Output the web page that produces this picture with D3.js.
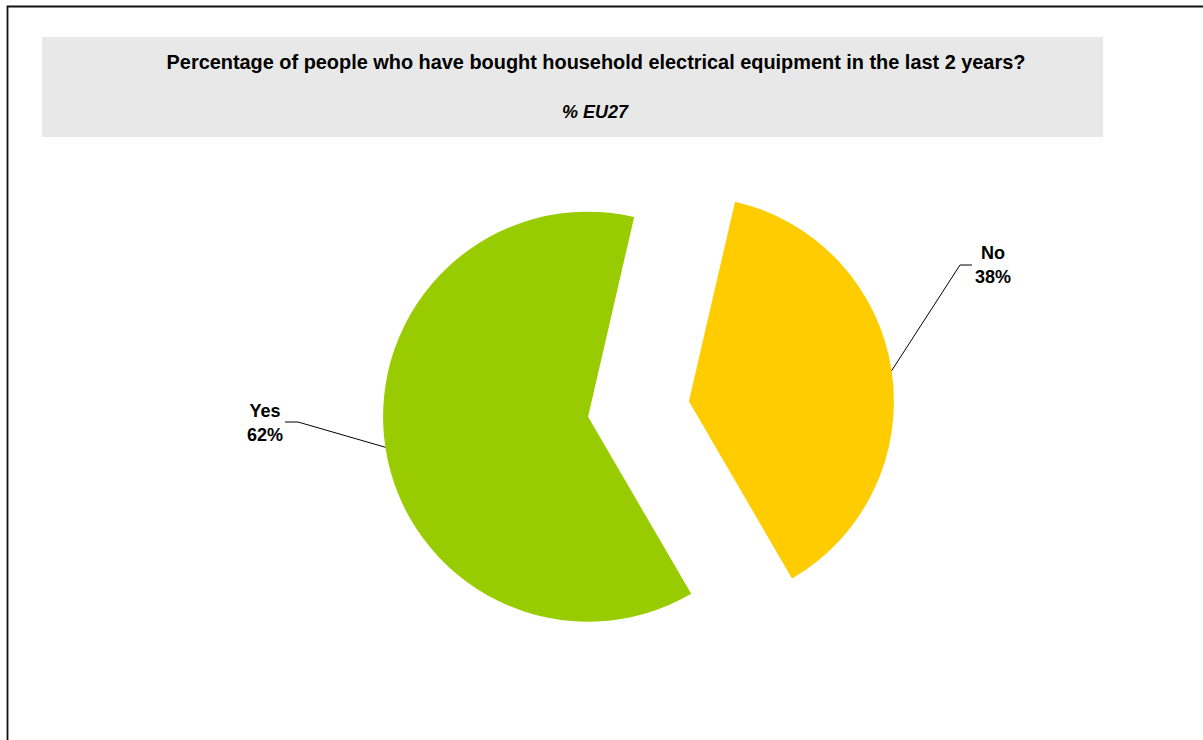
<!DOCTYPE html>
<html>
<head>
<meta charset="utf-8">
<script src="https://cdn.jsdelivr.net/npm/d3@7"></script>
<style>
  html, body { margin: 0; padding: 0; background: #fff; }
  svg { display: block; font-family: "Liberation Sans", Arial, sans-serif; }
</style>
</head>
<body>
<svg id="chart" width="1203" height="740"></svg>
<script>
// Survey answers and their shares (%)
const categories = ["Yes", "No"];
const values = [62, 38];
const sliceColors = ["#99CC00", "#FFCC00"];
const titleText = "Percentage of people who have bought household electrical equipment in the last 2 years?";
const subtitleText = "% EU27";

const svg = d3.select("#chart");

// Outer frame (only left and top edges fall inside the view)
svg.append("path")
  .attr("d", "M7.5,745 V6.5 H1210")
  .attr("fill", "none")
  .attr("stroke", "#111")
  .attr("stroke-width", 1.8);

// Title band
svg.append("rect")
  .attr("x", 42).attr("y", 37)
  .attr("width", 1061).attr("height", 100)
  .attr("fill", "#e8e8e8");

svg.append("text")
  .attr("x", 596).attr("y", 69)
  .attr("text-anchor", "middle")
  .attr("font-weight", "bold")
  .attr("font-size", 19.9)
  .attr("fill", "#000")
  .text(titleText);

svg.append("text")
  .attr("x", 595).attr("y", 118)
  .attr("text-anchor", "middle")
  .attr("font-weight", "bold")
  .attr("font-style", "italic")
  .attr("font-size", 18)
  .attr("fill", "#000")
  .text(subtitleText);

// Pie layout: rotated so the "No" slice begins at about 13° past 12 o'clock
const data = categories.map((c, i) => ({ label: c, value: values[i], color: sliceColors[i] }));
const start = (13 - 360 * values[0] / d3.sum(values)) * Math.PI / 180;
const pie = d3.pie().sort(null).value(d => d.value)
  .startAngle(start).endAngle(start + 2 * Math.PI);

const cx = 638.5, cy = 409, radius = 205, explode = 51;
const arc = d3.arc().innerRadius(0).outerRadius(radius);

const arcs = pie(data);

const slices = svg.append("g").attr("transform", `translate(${cx},${cy})`);

// Leader-line geometry for each label (elbow point, end of horizontal tick, text centre)
const labelLayout = {
  Yes: { elbow: [298, 422], tick: [285, 422], text: [265, 417] },
  No:  { elbow: [960, 265], tick: [972, 265], text: [993, 259] }
};

arcs.forEach(a => {
  const mid = (a.startAngle + a.endAngle) / 2;
  const ox = explode * Math.sin(mid), oy = -explode * Math.cos(mid);
  slices.append("path")
    .attr("d", arc(a))
    .attr("transform", `translate(${ox},${oy})`)
    .attr("fill", a.data.color);

  // point on the slice rim at its middle angle
  const px = cx + ox + radius * Math.sin(mid);
  const py = cy + oy - radius * Math.cos(mid);
  const L = labelLayout[a.data.label];

  svg.append("polyline")
    .attr("points", [[px, py], L.elbow, L.tick].map(p => p.join(",")).join(" "))
    .attr("fill", "none")
    .attr("stroke", "#000")
    .attr("stroke-width", 1);

  const t = svg.append("text")
    .attr("x", L.text[0]).attr("y", L.text[1])
    .attr("text-anchor", "middle")
    .attr("font-weight", "bold")
    .attr("font-size", 18)
    .attr("fill", "#000");
  t.append("tspan").attr("x", L.text[0]).text(a.data.label);
  t.append("tspan").attr("x", L.text[0]).attr("dy", 23.5).text(`${a.data.value}%`);
});
</script>
</body>
</html>
